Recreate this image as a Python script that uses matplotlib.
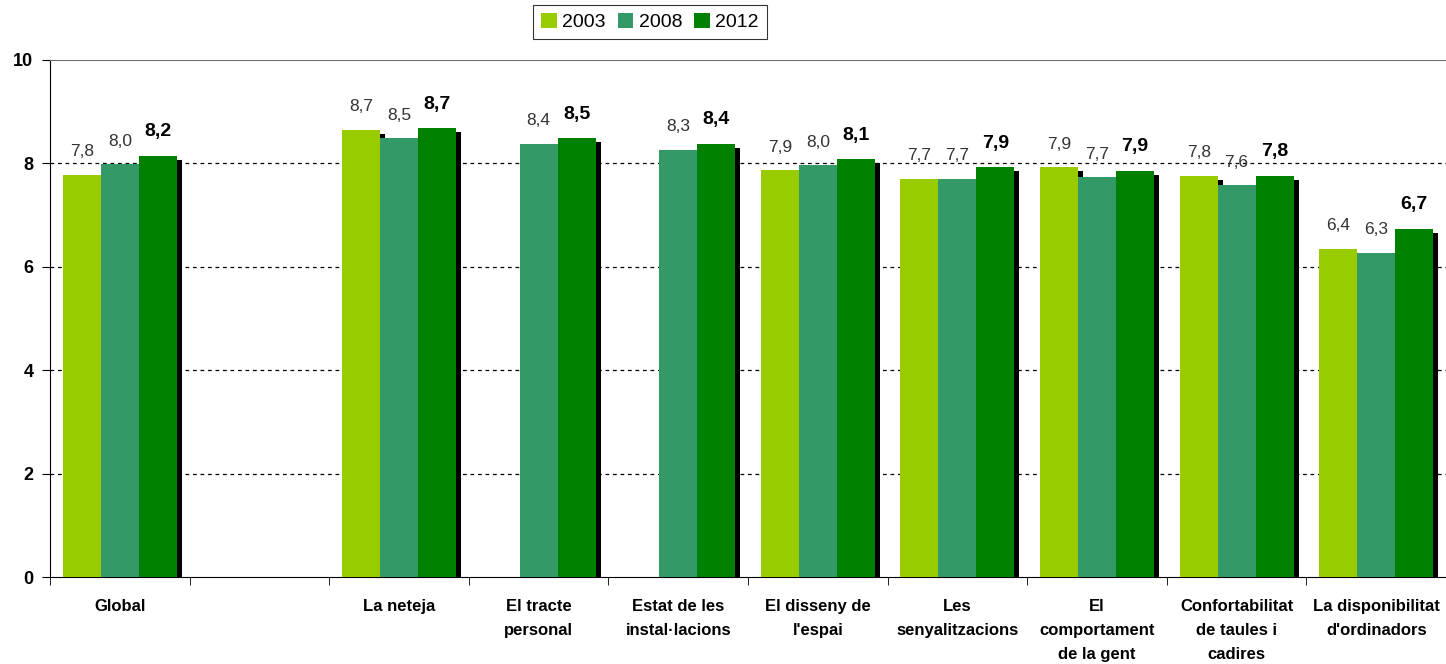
import numpy as np
import matplotlib.pyplot as plt
from matplotlib.patches import Patch

CATEGORIES = ["Global", "", "La neteja", "El tracte\npersonal", "Estat de les\ninstal·lacions",
              "El disseny de\nl'espai", "Les\nsenyalitzacions", "El\ncomportament\nde la gent",
              "Confortabilitat\nde taules i\ncadires", "La disponibilitat\nd'ordinadors"]
YEARS = ["2003", "2008", "2012"]
V2003 = [7.78, np.nan, 8.65, np.nan, np.nan, 7.87, 7.70, 7.93, 7.76, 6.35]
V2008 = [7.98, np.nan, 8.49, 8.38, 8.26, 7.96, 7.70, 7.73, 7.58, 6.27]
V2012 = [8.15, np.nan, 8.68, 8.49, 8.38, 8.08, 7.93, 7.86, 7.76, 6.74]
COLORS = ["#99cc00", "#339966", "#008000"]

SERIES = [V2003, V2008, V2012]

plt.rcParams['font.family'] = ['Liberation Sans', 'DejaVu Sans']


def fmt(v):
    return ("%.1f" % (v + 1e-9)).replace(".", ",")


fig = plt.figure(figsize=(14.46, 6.64), dpi=100)
ax = fig.add_axes([50 / 1446, 1 - 577 / 664, 1 - 50 / 1446, (577 - 60) / 664])

x = np.arange(len(CATEGORIES))
w = 0.272
# shadow offsets (about 5px right, 4px down)
dx = 5 / 139.6
dy = 4 / 51.7

for k, vals in enumerate(SERIES):
    xs = x + (k - 1) * w
    v = np.array(vals)
    ax.bar(xs + dx, v - dy, w, color="black", zorder=2, linewidth=0)
for k, vals in enumerate(SERIES):
    xs = x + (k - 1) * w
    v = np.array(vals)
    ax.bar(xs, v, w, color=COLORS[k], zorder=3, linewidth=0, label=YEARS[k])
    for xi, vi in zip(xs, v):
        if np.isnan(vi):
            continue
        if k == 2:
            ax.text(xi, vi + 0.3, fmt(vi), ha="center", va="bottom", fontsize=14,
                    fontweight="bold", color="black", zorder=5)
        else:
            ax.text(xi, vi + 0.3, fmt(vi), ha="center", va="bottom", fontsize=12.5,
                    color="#333333", zorder=5)

ax.set_xlim(-0.5, len(CATEGORIES) - 0.5)
ax.set_ylim(0, 10)
ax.set_yticks([0, 2, 4, 6, 8, 10])
ax.set_yticklabels(["0", "2", "4", "6", "8", "10"], fontsize=13, fontweight="bold")
for yv in [2, 4, 6, 8]:
    ax.axhline(yv, color="black", linestyle=(0, (3, 3)), linewidth=0.9, zorder=1)

ax.set_xticks(x)
ax.set_xticklabels(CATEGORIES, fontsize=12, fontweight="bold", linespacing=1.75)
ax.set_xticks(np.arange(len(CATEGORIES) + 1) - 0.5, minor=True)
ax.tick_params(axis="x", which="major", length=0, pad=16)
ax.tick_params(axis="x", which="minor", length=6, direction="out")
ax.tick_params(axis="y", length=6, direction="out", pad=6)

ax.spines["right"].set_visible(False)
ax.spines["top"].set_color("#707070")
ax.spines["left"].set_color("black")
ax.spines["bottom"].set_color("black")

handles = [Patch(facecolor=c, label=y) for c, y in zip(COLORS, YEARS)]
leg = fig.legend(handles=handles, loc="center", bbox_to_anchor=(650 / 1446, 1 - 22 / 664),
                 ncol=3, fontsize=14, frameon=True, fancybox=False, handlelength=0.8,
                 handleheight=0.8, handletextpad=0.3, columnspacing=0.6, borderpad=0.4)
leg.get_frame().set_edgecolor("black")
leg.get_frame().set_linewidth(0.8)

fig.savefig("out.png", dpi=100)
